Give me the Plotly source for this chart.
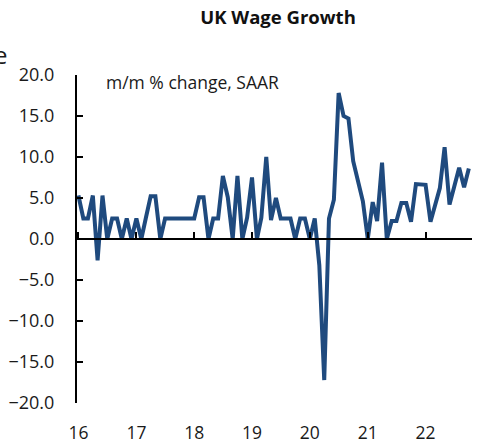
import pandas as pd
import plotly.graph_objects as go

# Monthly UK wage growth, m/m % change SAAR, Jan 2016 - Oct 2022
months = pd.date_range("2016-01-01", "2022-10-01", freq="MS")
wage_growth = [
    # 2016
    5.3, 2.5, 2.5, 5.3, -2.6, 5.3, 0.0, 2.5, 2.5, 0.0, 2.5, 0.0,
    # 2017
    2.5, 0.0, 2.5, 5.2, 5.2, 0.0, 2.5, 2.5, 2.5, 2.5, 2.5, 2.5,
    # 2018
    2.5, 5.1, 5.1, 0.0, 2.5, 2.5, 7.7, 5.1, 0.0, 7.7, 0.0, 2.6,
    # 2019
    7.5, 0.0, 2.6, 10.0, 2.3, 5.0, 2.5, 2.5, 2.5, 0.0, 2.5, 2.5,
    # 2020
    0.0, 2.5, -3.2, -17.2, 2.5, 4.8, 17.8, 15.0, 14.7, 9.5, 7.1, 4.6,
    # 2021
    0.0, 4.5, 2.2, 9.3, 0.0, 2.2, 2.2, 4.4, 4.4, 2.1, 6.7, 6.7,
    # 2022
    6.6, 2.1, 4.0, 6.2, 11.2, 4.2, 6.4, 8.7, 6.3, 8.6,
]
y_ticks = [-20, -15, -10, -5, 0, 5, 10, 15, 20]
title_text = "UK Wage Growth"
note_text = "m/m % change, SAAR"

FONT = "Open Sans"
x_range = ["2015-12-23", "2022-10-21"]

fig = go.Figure()
# main series (bottom axis carries the year labels)
fig.add_trace(go.Scatter(
    x=months, y=wage_growth, mode="lines",
    line=dict(color="#1F4A7E", width=4),
    showlegend=False, hoverinfo="skip",
))
# empty trace so the zero-line axis gets drawn
fig.add_trace(go.Scatter(
    x=[months[0]], y=[None], mode="lines", xaxis="x2",
    showlegend=False, hoverinfo="skip",
))

fig.update_layout(
    width=480, height=442,
    margin=dict(l=77, r=8, t=75, b=39),
    paper_bgcolor="white", plot_bgcolor="white",
    font=dict(family=FONT, color="#1a1a1a"),
    title=dict(text="<b>" + title_text + "</b>", x=278/480, xanchor="center",
               y=1 - 18/442, yanchor="middle", font=dict(size=18.5, color="#111111")),
    xaxis=dict(
        type="date", range=x_range, tick0="2016-01-01", dtick="M12",
        tickformat="%y", showgrid=False, zeroline=False, showline=False,
        ticks="", ticklabelstandoff=17, tickfont=dict(size=17.5),
        automargin=False,
    ),
    xaxis2=dict(
        type="date", range=x_range, tick0="2016-01-01", dtick="M12",
        overlaying="x", anchor="free", position=0.5, showgrid=False,
        zeroline=False, showline=True, linecolor="black", linewidth=2,
        ticks="inside", ticklen=6, tickwidth=2, tickcolor="black",
        showticklabels=False, automargin=False,
    ),
    yaxis=dict(
        range=[-20, 20], tickvals=y_ticks, tickformat=".1f",
        showgrid=False, zeroline=False, showline=True, linecolor="black",
        linewidth=2, ticks="inside", ticklen=6, tickwidth=2, tickcolor="black",
        ticklabelstandoff=17, tickfont=dict(size=18), automargin=False,
    ),
    annotations=[
        dict(text=note_text, xref="paper", yref="paper", x=27/395, y=1 - 7/328,
             xanchor="left", yanchor="middle", showarrow=False,
             font=dict(size=17.5, color="#1a1a1a")),
        dict(text="e", xref="paper", yref="paper", x=-68/395, y=1 + 20/328,
             xanchor="right", yanchor="middle", showarrow=False,
             font=dict(size=24, color="#1a1a1a")),
    ],
)

fig.write_html("out.html", config={"displayModeBar": False},
               post_script="document.body.style.margin='0';")
